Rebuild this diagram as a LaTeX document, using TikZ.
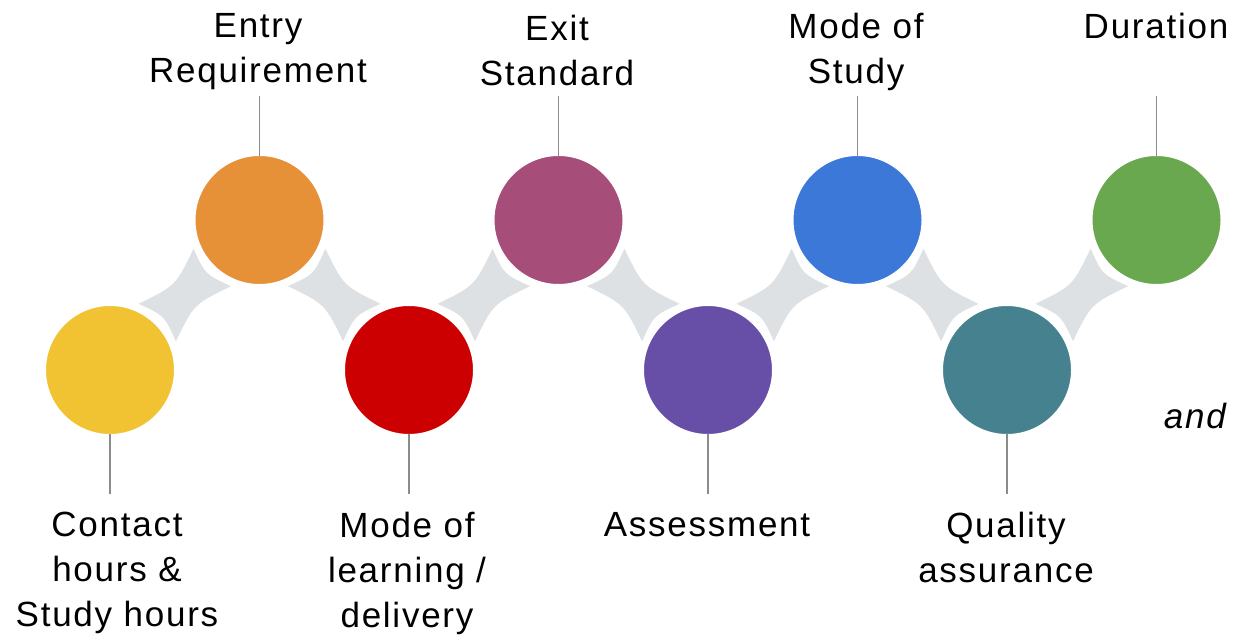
\documentclass[tikz,border=0pt]{standalone}
\usepackage{fontspec}
\setmainfont{Liberation Sans}[LetterSpace=5]
\usepackage{tikz}
\usetikzlibrary{
    positioning,
    calc,
    backgrounds
}
\definecolor{ballyellow}{HTML}{F1C232}
\definecolor{ballorange}{HTML}{E69138}
\definecolor{ballred}{HTML}{CC0000}
\definecolor{ballplum}{HTML}{A64D79}
\definecolor{ballpurple}{HTML}{674EA7}
\definecolor{ballblue}{HTML}{3C78D8}
\definecolor{ballteal}{HTML}{45818E}
\definecolor{ballgreen}{HTML}{6AA84F}
\definecolor{linkgrey}{HTML}{DEE1E4}
\definecolor{stemgrey}{HTML}{8C8C8C}

\tikzset{
    ball/.style={circle, fill=#1, draw=white, line width=6pt,
        minimum size=134pt, inner sep=0pt, outer sep=0pt},
    blurb/.style={align=center, inner sep=0pt,
        font=\fontsize{35}{45}\selectfont},
    stem/.style={draw=stemgrey, line width=1.2pt, shorten <=-3pt},
    spark/.pic={
        \fill[linkgrey] (-39,-26.5) .. controls (0,-13) .. (39,-26.5)
            .. controls (29,0) .. (39,26.5)
            .. controls (0,13) .. (-39,26.5)
            .. controls (-29,0) .. cycle;
    }
}

\begin{document}
\begin{tikzpicture}[x=1pt, y=1pt]
    \useasboundingbox (0,0) rectangle (1233,634);

    % circles
    \node[ball=ballyellow] (c1) at (110,264) {};
    \node[ball=ballorange] (c2) at (259.5,414) {};
    \node[ball=ballred] (c3) at (409,264) {};
    \node[ball=ballplum] (c4) at (558.5,414) {};
    \node[ball=ballpurple] (c5) at (708,264) {};
    \node[ball=ballblue] (c6) at (857.5,414) {};
    \node[ball=ballteal] (c7) at (1007,264) {};
    \node[ball=ballgreen] (c8) at (1156.5,414) {};

    % grey links between circles
    \begin{scope}[on background layer]
        \foreach \a/\b/\r in {c1/c2/45, c2/c3/-45, c3/c4/45, c4/c5/-45,
                              c5/c6/45, c6/c7/-45, c7/c8/45}
            \pic[rotate=\r] at ($(\a)!0.5!(\b)$) {spark};
    \end{scope}

    % labels
    \node[blurb, anchor=north] (l1) at (117,122) {Contact\\hours \&\\Study hours};
    \node[blurb, anchor=north] (l2) at (258,621) {Entry\\Requirement};
    \node[blurb, anchor=north] (l3) at (407,122) {Mode of\\learning /\\delivery};
    \node[blurb, anchor=north] (l4) at (557,619) {Exit\\Standard};
    \node[blurb, anchor=north] (l5) at (707,122) {Assessment};
    \node[blurb, anchor=north] (l6) at (856,621) {Mode of\\Study};
    \node[blurb, anchor=north] (l7) at (1006,122) {Quality\\assurance};
    \node[blurb, anchor=north] (l8) at (1156,621) {Duration};
    \node[blurb, anchor=east, font=\fontsize{35}{45}\selectfont\itshape] (andword) at (1226,218) {and};

    % stems from circles towards labels
    \coordinate[below=57pt of c1] (p1);
    \coordinate[above=57pt of c2] (p2);
    \coordinate[below=57pt of c3] (p3);
    \coordinate[above=57pt of c4] (p4);
    \coordinate[below=57pt of c5] (p5);
    \coordinate[above=57pt of c6] (p6);
    \coordinate[below=57pt of c7] (p7);
    \coordinate[above=57pt of c8] (p8);
    \foreach \i in {1,...,8}
        \draw[stem] (c\i) -- (p\i);
\end{tikzpicture}
\end{document}
